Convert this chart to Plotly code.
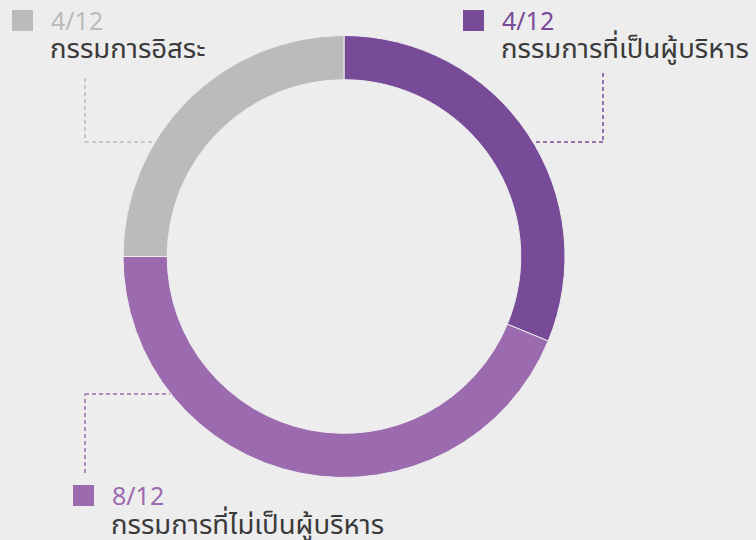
import plotly.graph_objects as go

W, H = 756, 540

# Data (slice sizes)
categories = ["กรรมการที่เป็นผู้บริหาร", "กรรมการที่ไม่เป็นผู้บริหาร", "กรรมการอิสระ"]
values = [5, 7, 4]
value_labels = ["4/12", "8/12", "4/12"]
colors = ["#784B99", "#9C6AAE", "#BBBBBB"]

BG = "#EDEDED"
TEXT = "#3A3A3A"
FONT = "Noto Sans Thai, Noto Sans Thai Looped, Noto Sans, sans-serif"

def fx(x):
    return x / W

def fy(y):
    return 1 - y / H

cx, cy, r = 344, 256.5, 221

fig = go.Figure(go.Pie(
    labels=categories,
    values=values,
    hole=0.8,
    sort=False,
    direction="clockwise",
    rotation=0,
    marker=dict(colors=colors, line=dict(color=BG, width=1)),
    textinfo="none",
    hoverinfo="label+value",
    showlegend=False,
    domain=dict(x=[fx(cx - r), fx(cx + r)], y=[fy(cy + r), fy(cy - r)]),
))

shapes = []
annotations = []

label_specs = [
    dict(i=2, sq=(12, 10), tx=51, leader=[(85, 78), (85, 142), (153, 142)]),
    dict(i=0, sq=(463, 10), tx=502, leader=[(603, 73), (603, 142), (535, 142)]),
    dict(i=1, sq=(73, 485), tx=112, leader=[(85, 473), (85, 394), (170, 394)]),
]

for s in label_specs:
    i = s["i"]
    x0, y0 = s["sq"]
    shapes.append(dict(type="rect", xref="paper", yref="paper",
                       x0=fx(x0), x1=fx(x0 + 21), y0=fy(y0 + 21), y1=fy(y0),
                       fillcolor=colors[i], line=dict(width=0)))
    pts = s["leader"]
    for (ax, ay), (bx, by) in zip(pts[:-1], pts[1:]):
        shapes.append(dict(type="line", xref="paper", yref="paper",
                           x0=fx(ax), y0=fy(ay), x1=fx(bx), y1=fy(by),
                           line=dict(color=colors[i], width=1.5, dash="4px,3px")))
    annotations.append(dict(xref="paper", yref="paper", x=fx(s["tx"] - 2), y=fy(y0 + 12),
                            xanchor="left", yanchor="middle", showarrow=False,
                            text=value_labels[i],
                            font=dict(family=FONT, size=25, color=colors[i])))
    annotations.append(dict(xref="paper", yref="paper", x=fx(s["tx"] - 3), y=fy(y0 + 40),
                            xanchor="left", yanchor="middle", showarrow=False,
                            text=categories[i],
                            font=dict(family=FONT, size=27.5, color=TEXT)))

fig.update_layout(
    width=W, height=H,
    margin=dict(l=0, r=0, t=0, b=0),
    paper_bgcolor=BG, plot_bgcolor=BG,
    shapes=shapes, annotations=annotations,
)

fig.write_html(
    "out.html",
    config={"displayModeBar": False},
    post_script="document.body.style.margin='0';document.body.style.background='#EDEDED';",
)
